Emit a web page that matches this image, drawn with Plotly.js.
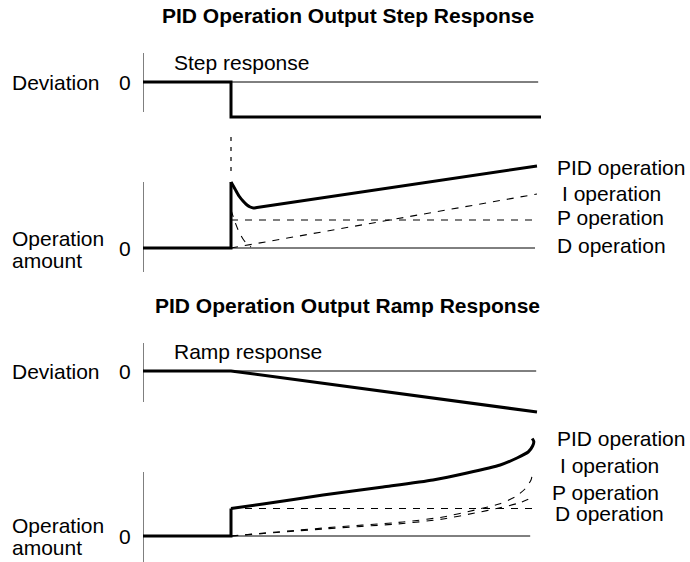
<!DOCTYPE html>
<html>
<head>
<meta charset="utf-8">
<script src="https://cdn.plot.ly/plotly-3.0.1.min.js"></script>
<style>
  html, body { margin: 0; padding: 0; background: #ffffff; }
  #chart { width: 690px; height: 562px; }
</style>
</head>
<body>
<div id="chart"></div>
<script>
// Time runs 0..10, the input changes at t = 2.2
const stepTime = 2.2;

// Step response: deviation and operation amounts
const stepDevT = [0, stepTime, stepTime, 9.95];
const stepDevV = [0, 0, -3.5, -3.5];
const stepPidJumpT = [0, stepTime, stepTime];
const stepPidJumpV = [0, 0, 6.6];
const stepPidT = [stepTime, 2.3, 2.4, 2.5, 2.6, 2.68, 2.76, 2.85, 9.85];
const stepPidV = [6.6, 5.9, 5.2, 4.7, 4.3, 4.1, 4.0, 4.05, 8.2];
const stepPT = [stepTime, 9.85];
const stepPV = [2.8, 2.8];
const stepIT = [stepTime, 9.85];
const stepIV = [0, 5.4];
const stepDT = [stepTime, 2.3, 2.4, 2.5, 2.6, 2.7];
const stepDV = [3.8, 2.6, 1.6, 0.9, 0.4, 0.1];

// Ramp response: deviation and operation amounts
const rampDevT = [0, stepTime, 9.85];
const rampDevV = [0, 0, -4.1];
const rampPidJumpT = [0, stepTime, stepTime];
const rampPidJumpV = [0, 0, 2.75];
const rampPidT = [stepTime, 3.0, 4.5, 6.0, 7.25, 8.1, 8.93, 9.35, 9.63, 9.74, 9.77, 9.73];
const rampPidV = [2.75, 3.2, 4.1, 4.9, 5.6, 6.3, 7.1, 7.8, 8.4, 9.0, 9.45, 9.75];
const rampDT = [stepTime, 9.85];
const rampDV = [2.75, 2.75];
const rampIT = [stepTime, 4.5, 6.5, 7.5, 8.3, 8.9, 9.3, 9.55, 9.7, 9.73];
const rampIV = [0, 0.8, 1.4, 1.9, 2.6, 3.2, 3.9, 4.7, 5.6, 6.1];
const rampPT = [stepTime, 4.5, 6.5, 7.5, 8.3, 8.9, 9.4, 9.75];
const rampPV = [0, 0.7, 1.25, 1.7, 2.3, 2.8, 3.3, 3.9];

const W = 690, H = 562, PX = 10; // 10 px per amount unit
const font = { family: 'Liberation Sans, Arial, Helvetica, sans-serif', size: 21, color: '#000000' };

// y axis band for a panel whose zero sits at zeroPx from the top
function band(zeroPx, lo, hi) {
    return {
        domain: [1 - (zeroPx - lo * PX) / H, 1 - (zeroPx - hi * PX) / H],
        range: [lo, hi],
        visible: false, fixedrange: true
    };
}

const thick = { color: '#000000', width: 3 };
const thickCurve = { color: '#000000', width: 3, shape: 'spline', smoothing: 0.6 };
const dashed = { color: '#000000', width: 1.1, dash: '7px,7px' };
const dashedCurve = { color: '#000000', width: 1.1, dash: '7px,7px', shape: 'spline', smoothing: 0.6 };
function tr(x, y, axis, line) {
    return { x: x, y: y, yaxis: axis, type: 'scatter', mode: 'lines', line: line, hoverinfo: 'skip', showlegend: false };
}

const traces = [
    tr(stepDevT, stepDevV, 'y', thick),
    tr(stepPT, stepPV, 'y2', dashed),
    tr(stepIT, stepIV, 'y2', dashed),
    tr(stepDT, stepDV, 'y2', dashedCurve),
    tr(stepPidJumpT, stepPidJumpV, 'y2', thick),
    tr(stepPidT, stepPidV, 'y2', thickCurve),
    tr(rampDevT, rampDevV, 'y3', thick),
    tr(rampDT, rampDV, 'y4', dashed),
    tr(rampIT, rampIV, 'y4', dashedCurve),
    tr(rampPT, rampPV, 'y4', dashedCurve),
    tr(rampPidJumpT, rampPidJumpV, 'y4', thick),
    tr(rampPidT, rampPidV, 'y4', thickCurve)
];

const thin = { color: '#000000', width: 1 };
function seg(yref, x0, y0, x1, y1, line) {
    return { type: 'line', xref: 'x', yref: yref, x0: x0, y0: y0, x1: x1, y1: y1, line: line, layer: 'below' };
}
const shapes = [
    // axis stubs
    seg('y', 0, 2.9, 0, -3.0, thin),
    seg('y2', 0, 6.6, 0, -2.4, thin),
    seg('y3', 0, 2.8, 0, -3.1, thin),
    seg('y4', 0, 6.4, 0, -2.6, thin),
    // zero lines
    seg('y', 0, 0, 9.88, 0, thin),
    seg('y2', 0, 0, 9.8, 0, thin),
    seg('y3', 0, 0, 9.83, 0, thin),
    seg('y4', 0, 0, 9.68, 0, thin),
    // step guide between the two step panels
    seg('y2', stepTime, 11.1, stepTime, 7.5, { color: '#000000', width: 1.2, dash: '4px,6px' })
];

function label(text, x, yref, y, xanchor) {
    return { text: text, xref: 'paper', x: x, yref: yref, y: y, xanchor: xanchor, yanchor: 'middle',
        showarrow: false, font: font, align: 'left' };
}
const annotations = [
    label('<b>PID Operation Output Step Response</b>', 0.504, 'paper', 1 - 15.5 / H, 'center'),
    label('<b>PID Operation Output Ramp Response</b>', 0.504, 'paper', 1 - 305 / H, 'center'),
    label('Step response', 172 / W, 'y', 2.0, 'left'),
    label('Ramp response', 172 / W, 'y3', 1.95, 'left'),
    label('Deviation', 10 / W, 'y', 0, 'left'),
    label('0', 133 / W, 'y', 0, 'right'),
    label('Operation', 10 / W, 'y2', 1.0, 'left'),
    label('amount', 10 / W, 'y2', -1.2, 'left'),
    label('0', 133 / W, 'y2', 0, 'right'),
    label('Deviation', 10 / W, 'y3', 0, 'left'),
    label('0', 133 / W, 'y3', 0, 'right'),
    label('Operation', 10 / W, 'y4', 1.1, 'left'),
    label('amount', 10 / W, 'y4', -1.1, 'left'),
    label('0', 133 / W, 'y4', 0, 'right'),
    // step response labels
    label('PID operation', 555 / W, 'y2', 8.1, 'left'),
    label('I operation', 560 / W, 'y2', 5.5, 'left'),
    label('P operation', 555 / W, 'y2', 3.1, 'left'),
    label('D operation', 555 / W, 'y2', 0.3, 'left'),
    // ramp response labels
    label('PID operation', 555 / W, 'y4', 9.8, 'left'),
    label('I operation', 558 / W, 'y4', 7.1, 'left'),
    label('P operation', 550 / W, 'y4', 4.4, 'left'),
    label('D operation', 553 / W, 'y4', 2.3, 'left')
];

Plotly.newPlot('chart', traces, {
    width: W,
    height: H,
    margin: { l: 0, r: 0, t: 0, b: 0 },
    paper_bgcolor: '#ffffff',
    plot_bgcolor: 'rgba(0,0,0,0)',
    font: font,
    hovermode: false,
    showlegend: false,
    xaxis: { domain: [143 / W, 543 / W], range: [0, 10], visible: false, fixedrange: true },
    yaxis: band(82, -4.5, 3.5),
    yaxis2: band(248, -3, 12.5),
    yaxis3: band(371, -4.5, 3.5),
    yaxis4: band(536, -2.6, 10.5),
    shapes: shapes,
    annotations: annotations
}, { displayModeBar: false, staticPlot: true });
</script>
</body>
</html>
